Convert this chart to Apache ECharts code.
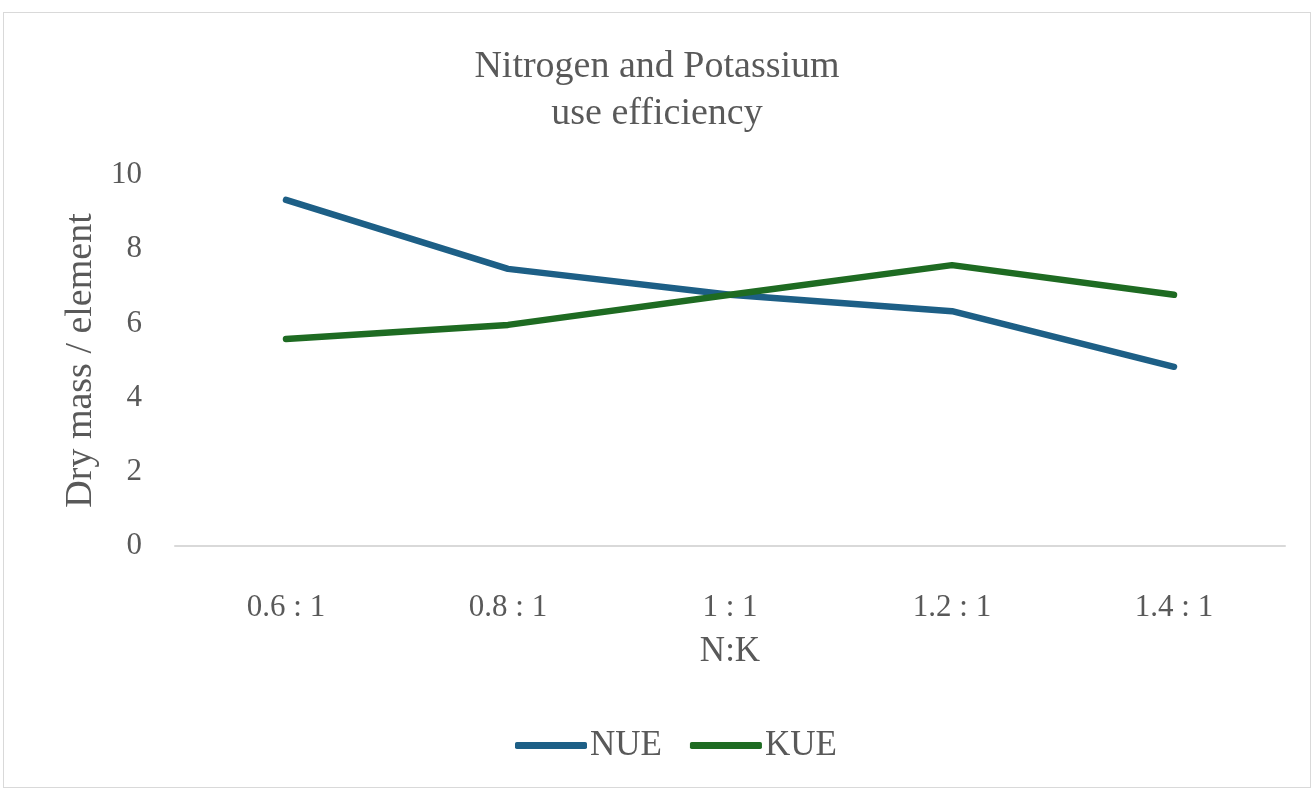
<!DOCTYPE html>
<html>
<head>
<meta charset="utf-8">
<script src="https://cdn.jsdelivr.net/npm/echarts@6/dist/echarts.min.js"></script>
<style>
  html, body { margin: 0; padding: 0; background: #fff; }
  #frame { position: absolute; left: 3px; top: 12px; width: 1306px; height: 774px; border: 1px solid #d9d9d9; }
  #chart { position: absolute; left: 0; top: 0; width: 1314px; height: 790px; }
</style>
</head>
<body>
<div id="frame"></div>
<div id="chart"></div>
<script>
var categories = ['0.6 : 1', '0.8 : 1', '1 : 1', '1.2 : 1', '1.4 : 1'];
var nue = [9.33, 7.47, 6.77, 6.33, 4.83];
var kue = [5.58, 5.96, 6.77, 7.57, 6.77];

var textColor = '#595959';
var font = 'Liberation Serif, serif';

var chart = echarts.init(document.getElementById('chart'), null, { renderer: 'canvas' });
chart.setOption({
  animation: false,
  textStyle: { fontFamily: font, color: textColor },
  title: {
    text: 'Nitrogen and Potassium\nuse efficiency',
    left: 'center',
    top: 39,
    textStyle: { fontFamily: font, fontSize: 38, fontWeight: 'normal', color: textColor, lineHeight: 47 }
  },
  legend: {
    data: ['NUE', 'KUE'],
    bottom: 22,
    left: 510,
    itemWidth: 72,
    itemHeight: 7,
    itemGap: 28,
    icon: 'roundRect',
    textStyle: { fontFamily: font, fontSize: 35, color: textColor, padding: [0, 0, 0, -2] }
  },
  grid: { left: 175, right: 29, top: 175, bottom: 244 },
  xAxis: {
    type: 'category',
    data: categories,
    boundaryGap: true,
    name: 'N:K',
    nameLocation: 'middle',
    nameGap: 88,
    nameTextStyle: { fontFamily: font, fontSize: 35, color: textColor },
    axisLine: { lineStyle: { color: '#d9d9d9', width: 2 } },
    axisTick: { show: false },
    axisLabel: { fontFamily: font, fontSize: 31, color: textColor, margin: 46 }
  },
  yAxis: {
    type: 'value',
    min: 0,
    max: 10,
    interval: 2,
    name: 'Dry mass / element',
    nameLocation: 'middle',
    nameGap: 74,
    nameTextStyle: { fontFamily: font, fontSize: 38, color: textColor },
    axisLine: { show: false },
    axisTick: { show: false },
    splitLine: { show: false },
    axisLabel: { fontFamily: font, fontSize: 31, color: textColor, margin: 33 }
  },
  series: [
    {
      name: 'NUE',
      type: 'line',
      data: nue,
      showSymbol: false,
      symbol: 'none',
      color: '#1d5f86',
      lineStyle: { width: 6.5, color: '#1d5f86', cap: 'round', join: 'round' }
    },
    {
      name: 'KUE',
      type: 'line',
      data: kue,
      showSymbol: false,
      symbol: 'none',
      color: '#1e6b22',
      lineStyle: { width: 6.5, color: '#1e6b22', cap: 'round', join: 'round' }
    }
  ]
});
</script>
</body>
</html>
